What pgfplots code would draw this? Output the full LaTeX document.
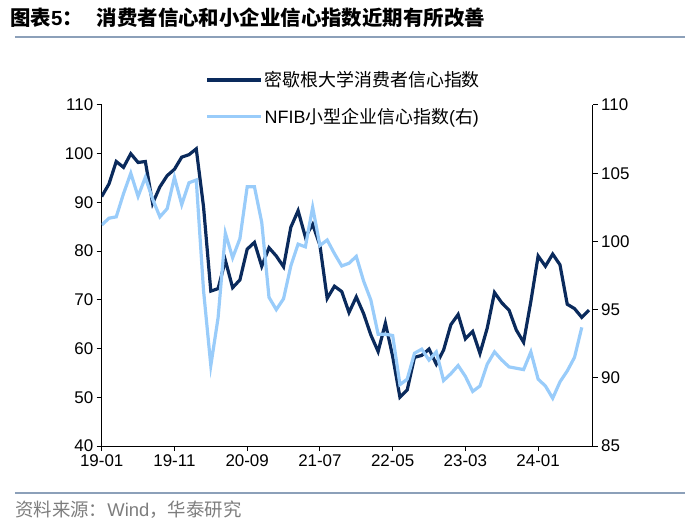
\documentclass[border=0pt]{standalone}
\usepackage{fontspec}
\setmainfont{Liberation Sans}
\newfontfamily\cjk{Noto Sans CJK SC}
\usepackage{pgfplots}
\pgfplotsset{compat=1.18}

\definecolor{navyline}{RGB}{10,42,92}
\definecolor{skyline}{RGB}{153,204,250}
\definecolor{rulegray}{RGB}{140,160,185}
\definecolor{srcgray}{RGB}{125,125,125}

\pgfplotsset{
  base/.style={
    scale only axis, width=491bp, height=341bp,
    at={(0,0)}, anchor=south west,
    xmin=0, xmax=67.5,
    axis line style={-, black, line width=1bp},
    tick style={black, line width=1bp},
    major tick length=5bp,
    tick align=outside,
    ticklabel style={font=\fontsize{17}{20}\selectfont},
    /pgf/number format/assume math mode=true,
  }
}

\begin{document}
\begin{tikzpicture}
\path[use as bounding box] (-101.7bp,-83bp) rectangle (598.3bp,446bp);

% left axis: Michigan consumer sentiment
\begin{axis}[base,
  axis x line*=bottom, axis y line*=left,
  ymin=40, ymax=110, ytick={40,50,...,110},
  xtick={0,10,...,60},
  xticklabels={19-01,19-11,20-09,21-07,22-05,23-03,24-01},
  legend style={at={(0.205,1.11)}, anchor=north west, draw=none, fill=none,
    font=\fontsize{18}{21}\selectfont, row sep=16bp},
  legend cell align=left,
  legend image code/.code={\draw[#1] (0bp,0bp) -- (54bp,0bp);},
]
\addplot[navyline, line width=3.2bp] coordinates {
(0,91.2) (1,93.8) (2,98.4) (3,97.2) (4,100.0) (5,98.2) (6,98.4) (7,89.8) (8,93.2) (9,95.5) (10,96.8) (11,99.3)
(12,99.8) (13,101.0) (14,89.1) (15,71.8) (16,72.3) (17,78.1) (18,72.5) (19,74.1) (20,80.4) (21,81.8) (22,76.9) (23,80.7)
(24,79.0) (25,76.8) (26,84.9) (27,88.3) (28,82.9) (29,85.5) (30,81.2) (31,70.3) (32,72.8) (33,71.7) (34,67.4) (35,70.6)
(36,67.2) (37,62.8) (38,59.4) (39,65.2) (40,58.4) (41,50.0) (42,51.5) (43,58.2) (44,58.6) (45,59.9) (46,56.8) (47,59.7)
(48,64.9) (49,67.0) (50,62.0) (51,63.5) (52,59.0) (53,64.2) (54,71.5) (55,69.4) (56,67.9) (57,63.8) (58,61.3) (59,69.7)
(60,79.0) (61,76.9) (62,79.4) (63,77.2) (64,69.1) (65,68.2) (66,66.4) (67,67.9)
};
\addlegendentry{\cjk 密歇根大学消费者信心指数}
\addlegendimage{skyline, line width=3.2bp}
\addlegendentry{NFIB{\cjk 小型企业信心指数}({\cjk 右})}
\end{axis}

% right axis: NFIB small business optimism
\begin{axis}[base,
  axis x line=none, axis y line*=right,
  ymin=85, ymax=110, ytick={85,90,...,110},
]
\addplot[skyline, line width=3.2bp] coordinates {
(0,101.2) (1,101.7) (2,101.8) (3,103.5) (4,105.0) (5,103.3) (6,104.7) (7,103.1) (8,101.8) (9,102.4) (10,104.7) (11,102.7)
(12,104.3) (13,104.5) (14,96.4) (15,90.9) (16,94.4) (17,100.6) (18,98.8) (19,100.2) (20,104.0) (21,104.0) (22,101.4) (23,95.9)
(24,95.0) (25,95.8) (26,98.2) (27,99.8) (28,99.6) (29,102.5) (30,99.7) (31,100.1) (32,99.1) (33,98.2) (34,98.4) (35,98.9)
(36,97.1) (37,95.7) (38,93.2) (39,93.2) (40,93.1) (41,89.5) (42,89.9) (43,91.8) (44,92.1) (45,91.3) (46,91.9) (47,89.8)
(48,90.3) (49,90.9) (50,90.1) (51,89.0) (52,89.4) (53,91.0) (54,91.9) (55,91.3) (56,90.8) (57,90.7) (58,90.6) (59,91.9)
(60,89.9) (61,89.4) (62,88.5) (63,89.7) (64,90.5) (65,91.5) (66,93.7)
};
\end{axis}

% title and source
\node[anchor=west, inner sep=0pt] at (-91.7bp,428bp)
  {\fontsize{20.5}{22}\selectfont\cjk\bfseries 图表{\normalfont\bfseries 5}：\hspace{14bp}消费者信心和小企业信心指数近期有所改善};
\draw[rulegray, line width=2bp] (-86.7bp,409bp) -- (583.3bp,409bp);
\draw[rulegray, line width=2bp] (-86.7bp,-47bp) -- (583.3bp,-47bp);
\node[anchor=west, inner sep=0pt, text=srcgray] at (-86.7bp,-64bp)
  {\fontsize{18.5}{20}\selectfont\cjk 资料来源：{\normalfont Wind}，华泰研究};
\end{tikzpicture}
\end{document}
